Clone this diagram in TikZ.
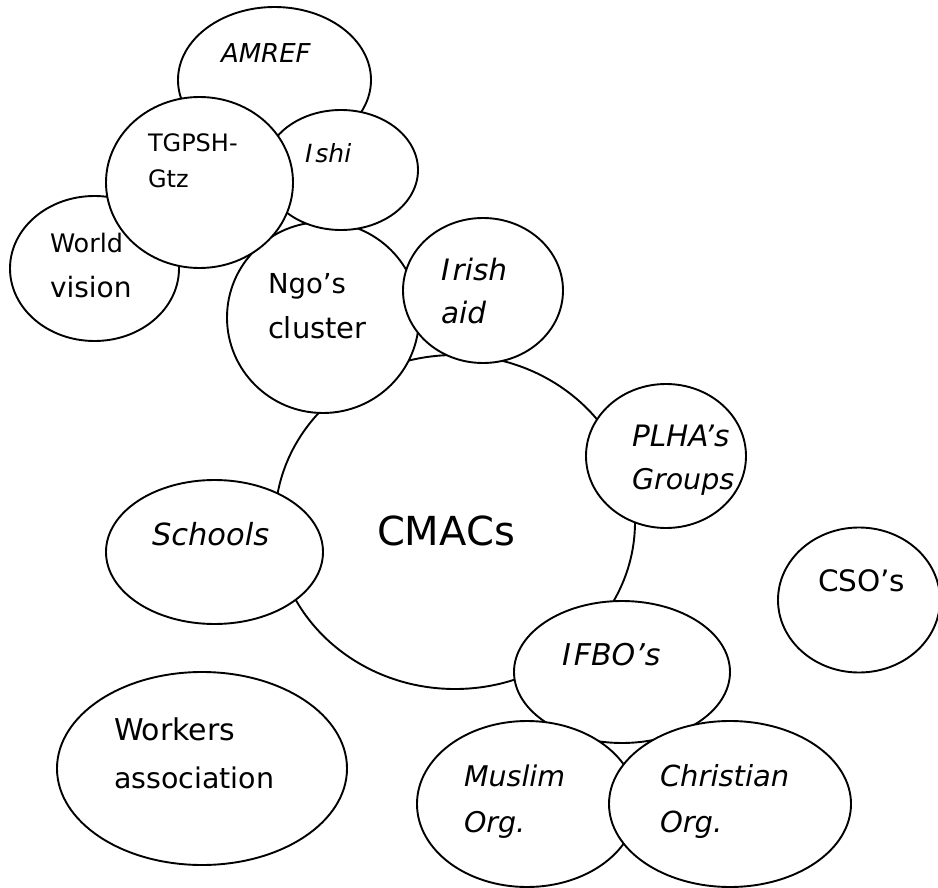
\documentclass[tikz,border=0pt]{standalone}
\usepackage{fontspec}
\setmainfont{DejaVu Sans}
\usetikzlibrary{shapes.geometric}

\tikzset{
  bubble/.style={ellipse, draw=black, line width=1.9pt, fill=white, inner sep=0pt},
  txt/.style={anchor=base west, inner sep=0pt, outer sep=0pt,
              font=\fontsize{#1}{#1}\selectfont},
  itxt/.style={anchor=base west, inner sep=0pt, outer sep=0pt,
               font=\fontsize{#1}{#1}\selectfont\itshape},
}

\begin{document}
\begin{tikzpicture}[x=1pt, y=-1pt]
  % page area and background
  \useasboundingbox (0,0) rectangle (938,888);
  \fill[white] (0,0) rectangle (938,888);

  % bubbles, back to front
  \node[bubble, minimum width=193pt, minimum height=146pt] (amref)     at (274.5,80)  {};
  \node[bubble, minimum width=169pt, minimum height=145pt] (world)     at (94.5,268.5) {};
  \node[bubble, minimum width=360pt, minimum height=334pt] (cmacs)     at (455,522)   {};
  \node[bubble, minimum width=192pt, minimum height=191pt] (ngo)       at (323,317.5) {};
  \node[bubble, minimum width=154pt, minimum height=120pt] (ishi)      at (341,170)   {};
  \node[bubble, minimum width=187pt, minimum height=171pt] (tgpsh)     at (199.5,182.5) {};
  \node[bubble, minimum width=160pt, minimum height=145pt] (irish)     at (483,290.5) {};
  \node[bubble, minimum width=160pt, minimum height=144pt] (plha)      at (666,456)   {};
  \node[bubble, minimum width=217pt, minimum height=144pt] (schools)   at (214.5,552) {};
  \node[bubble, minimum width=216pt, minimum height=142pt] (ifbo)      at (622,672)   {};
  \node[bubble, minimum width=220pt, minimum height=166pt] (muslim)    at (527,804)   {};
  \node[bubble, minimum width=242pt, minimum height=166pt] (christian) at (730,804)   {};
  \node[bubble, minimum width=162pt, minimum height=145pt] (cso)       at (859,600)   {};
  \node[bubble, minimum width=290pt, minimum height=193pt] (workers)   at (202,768.5) {};

  % labels
  \node[itxt=26]   (lamref) at (221,63)  {AMREF};
  \node[txt=24]    (ltg1)   at (148,152) {TGPSH-};
  \node[txt=24]    (ltg2)   at (148,188) {Gtz};
  \node[itxt=25]   (lishi)  at (305,163) {I\kern3pt shi};
  \node[txt=25.5]  (lwv1)   at (50,252)  {World};
  \node[txt=28]    (lwv2)   at (50,297)  {vision};
  \node[txt=27.5]  (lngo1)  at (268,293) {Ngo’s};
  \node[txt=29]    (lngo2)  at (268,338) {cluster};
  \node[itxt=29.5] (lir1)   at (441,280) {I\kern3pt rish};
  \node[itxt=29.5] (lir2)   at (441,323) {aid};
  \node[itxt=29.5] (lpl1)   at (632,446) {PLHA’s};
  \node[itxt=28.5] (lpl2)   at (632,489) {Groups};
  \node[txt=40]    (lcm)    at (377,545) {CMACs};
  \node[itxt=30.5] (lsch)   at (152,545) {Schools};
  \node[txt=29.5]  (lcso)   at (818,591) {CSO’s};
  \node[itxt=30]   (lifbo)  at (562,665) {I\kern3pt FBO’s};
  \node[txt=30]    (lwa1)   at (114,740) {Workers};
  \node[txt=28.5]  (lwa2)   at (114,788) {association};
  \node[itxt=28.5] (lmu1)   at (464,786) {Muslim};
  \node[itxt=28.5] (lmu2)   at (464,832) {Org.};
  \node[itxt=29]   (lch1)   at (660,786) {Christian};
  \node[itxt=29]   (lch2)   at (660,832) {Org.};
\end{tikzpicture}
\end{document}
